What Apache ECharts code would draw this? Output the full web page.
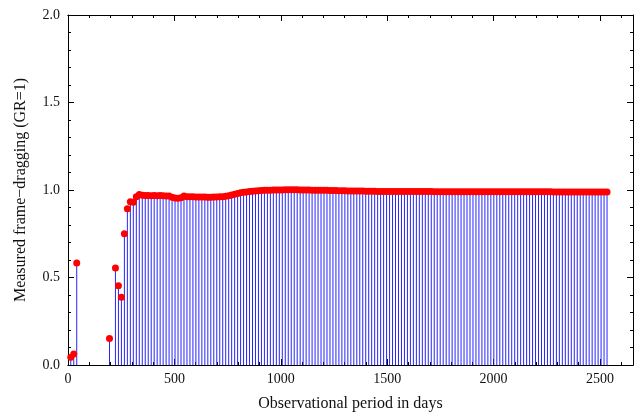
<!DOCTYPE html>
<html>
<head>
<meta charset="utf-8">
<script src="https://cdn.jsdelivr.net/npm/echarts@6/dist/echarts.min.js"></script>
<style>
html,body{margin:0;padding:0;background:#fff;}
#main{width:640px;height:417px;}
</style>
</head>
<body>
<div id="main"></div>
<script>
// observation days (x) and measured frame-dragging (y, GR = 1)
var days = [
  13, 27, 41, 195, 223, 237, 251, 265, 279, 293,
  307, 321, 335, 349, 363, 377, 391, 405, 419, 433,
  447, 461, 475, 489, 503, 517, 531, 545, 559, 573,
  587, 601, 615, 629, 643, 657, 671, 685, 699, 713,
  727, 741, 755, 769, 783, 797, 811, 825, 839, 853,
  867, 881, 895, 909, 923, 937, 951, 965, 979, 993,
  1007, 1021, 1035, 1049, 1063, 1077, 1091, 1105, 1119, 1133,
  1147, 1161, 1175, 1189, 1203, 1217, 1231, 1245, 1259, 1273,
  1287, 1301, 1315, 1329, 1343, 1357, 1371, 1385, 1399, 1413,
  1427, 1441, 1455, 1469, 1483, 1497, 1511, 1525, 1539, 1553,
  1567, 1581, 1595, 1609, 1623, 1637, 1651, 1665, 1679, 1693,
  1707, 1721, 1735, 1749, 1763, 1777, 1791, 1805, 1819, 1833,
  1847, 1861, 1875, 1889, 1903, 1917, 1931, 1945, 1959, 1973,
  1987, 2001, 2015, 2029, 2043, 2057, 2071, 2085, 2099, 2113,
  2127, 2141, 2155, 2169, 2183, 2197, 2211, 2225, 2239, 2253,
  2267, 2281, 2295, 2309, 2323, 2337, 2351, 2365, 2379, 2393,
  2407, 2421, 2435, 2449, 2463, 2477, 2491, 2505, 2519, 2533
];
var measured = [
  0.044, 0.063, 0.583, 0.152, 0.554, 0.453, 0.387, 0.750, 0.893, 0.933,
  0.930, 0.962, 0.975, 0.970, 0.968, 0.968, 0.967, 0.968, 0.967, 0.968,
  0.967, 0.966, 0.966, 0.958, 0.955, 0.953, 0.956, 0.966, 0.962, 0.961,
  0.961, 0.960, 0.960, 0.960, 0.960, 0.959, 0.959, 0.960, 0.960, 0.961,
  0.962, 0.964, 0.967, 0.971, 0.976, 0.980, 0.984, 0.987, 0.989, 0.991,
  0.993, 0.995, 0.996, 0.997, 0.998, 0.999, 0.999, 1.000, 1.000, 1.000,
  1.000, 1.001, 1.001, 1.001, 1.001, 1.001, 1.000, 1.000, 1.000, 1.000,
  0.999, 0.999, 0.999, 0.998, 0.998, 0.998, 0.997, 0.997, 0.997, 0.996,
  0.996, 0.996, 0.995, 0.995, 0.995, 0.994, 0.994, 0.994, 0.993, 0.993,
  0.993, 0.993, 0.992, 0.992, 0.992, 0.992, 0.992, 0.991, 0.991, 0.991,
  0.991, 0.991, 0.991, 0.991, 0.991, 0.991, 0.991, 0.991, 0.991, 0.991,
  0.991, 0.990, 0.990, 0.990, 0.990, 0.990, 0.990, 0.990, 0.990, 0.990,
  0.990, 0.990, 0.990, 0.990, 0.990, 0.990, 0.990, 0.990, 0.990, 0.990,
  0.990, 0.990, 0.990, 0.990, 0.990, 0.990, 0.990, 0.990, 0.990, 0.990,
  0.990, 0.990, 0.990, 0.990, 0.990, 0.990, 0.990, 0.990, 0.990, 0.990,
  0.990, 0.989, 0.989, 0.989, 0.989, 0.989, 0.989, 0.989, 0.989, 0.989,
  0.989, 0.989, 0.989, 0.989, 0.989, 0.989, 0.989, 0.989, 0.989, 0.989
];
var xMax = 2655;

var pts = [];
for (var i = 0; i < days.length; i++) {
  pts.push([days[i], measured[i]]);
}

var font = 'Liberation Serif';
var txt = '#111';

function xAx(pos, step, len, labels) {
  return {
    type: 'value', position: pos, min: 0, max: xMax, interval: step,
    name: labels ? 'Observational period in days' : '',
    nameLocation: 'middle', nameGap: 31,
    nameTextStyle: {fontFamily: font, fontSize: 16, color: txt},
    axisLine: {show: true, onZero: false, lineStyle: {color: '#000', width: 1}},
    axisTick: {show: true, inside: true, length: len, lineStyle: {color: '#000'}},
    splitLine: {show: false},
    axisLabel: {
      show: labels, margin: 7, fontFamily: font, fontSize: 14, color: txt,
      showMaxLabel: false,
      formatter: function (v) { return v % 500 === 0 ? String(v) : ''; }
    }
  };
}

function yAx(pos, labels) {
  return {
    type: 'value', position: pos, min: 0, max: 2, interval: 0.5,
    name: labels ? 'Measured frame\u2212dragging (GR=1)' : '',
    nameLocation: 'middle', nameGap: 39, nameRotate: 90,
    nameTextStyle: {fontFamily: font, fontSize: 16, color: txt},
    axisLine: {show: true, onZero: false, lineStyle: {color: '#000', width: 1}},
    axisTick: {show: true, inside: true, length: 6, lineStyle: {color: '#000'}},
    minorTick: {show: true, splitNumber: 5, length: 3, lineStyle: {color: '#000'}},
    splitLine: {show: false},
    axisLabel: {
      show: labels, margin: 8, fontFamily: font, fontSize: 14, color: txt,
      formatter: function (v) { return v.toFixed(1); }
    }
  };
}

var chart = echarts.init(document.getElementById('main'), null, {renderer: 'canvas'});
chart.setOption({
  animation: false,
  backgroundColor: '#fff',
  grid: {left: 68, right: 7, top: 15, bottom: 52, containLabel: false},
  xAxis: [
    xAx('bottom', 500, 6, true),
    xAx('bottom', 100, 3, false),
    xAx('top', 500, 6, false),
    xAx('top', 100, 3, false)
  ],
  yAxis: [yAx('left', true), yAx('right', false)],
  series: [
    {
      type: 'bar', xAxisIndex: 0, yAxisIndex: 0,
      barWidth: 1, barMinHeight: 0, data: pts,
      itemStyle: {color: '#2626ff'},
      z: 2
    },
    {
      type: 'scatter', xAxisIndex: 0, yAxisIndex: 0,
      symbol: 'circle', symbolSize: 7, data: pts,
      itemStyle: {color: '#ff0000', opacity: 1},
      z: 3
    }
  ]
});
</script>
</body>
</html>
